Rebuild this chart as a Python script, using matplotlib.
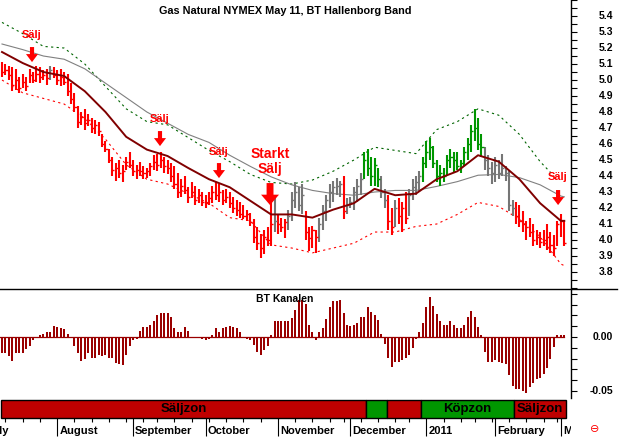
"""Gas Natural NYMEX May 11 with BT Hallenborg band, BT Kanalen histogram
and the buy/sell zone strip underneath."""
import matplotlib

matplotlib.use("Agg")
import matplotlib.pyplot as plt
import numpy as np
import pandas as pd
from matplotlib.lines import Line2D
from matplotlib.patches import FancyArrow
from matplotlib.transforms import Bbox, TransformedBbox

plt.rcParams["font.family"] = ["Liberation Sans", "DejaVu Sans"]

W, H = 619, 437  # output size in pixels

# trading calendar (US holidays removed)
HOLIDAYS = ["2010-07-05", "2010-09-06", "2010-11-25", "2010-12-24",
            "2011-01-17", "2011-02-21"]
FIRST_DAY, LAST_DAY = "2010-07-09", "2011-03-02"
MONTH_LABELS = ["July", "August", "September", "October", "November",
                "December", "2011", "February", "M"]

# daily bars
HIGH = [5.11, 5.10, 5.09, 5.08, 5.07, 5.02, 5.04, 5.02, 5.07, 5.05,
        5.09, 5.08, 5.06, 5.07, 5.09, 5.08, 5.06, 5.07, 5.05, 5.04,
        4.98, 4.92, 4.84, 4.80, 4.82, 4.79, 4.76, 4.75, 4.74, 4.66,
        4.62, 4.57, 4.52, 4.48, 4.50, 4.47, 4.52, 4.55, 4.50, 4.47,
        4.49, 4.46, 4.45, 4.48, 4.53, 4.54, 4.55, 4.52, 4.50, 4.48,
        4.46, 4.42, 4.38, 4.40, 4.33, 4.36, 4.34, 4.32, 4.30, 4.28,
        4.30, 4.34, 4.36, 4.35, 4.31, 4.32, 4.30, 4.27, 4.25, 4.24,
        4.22, 4.19, 4.17, 4.13, 4.08, 4.04, 4.06, 4.08, 4.32, 4.28,
        4.16, 4.14, 4.13, 4.19, 4.30, 4.36, 4.33, 4.35, 4.18, 4.08,
        4.09, 4.06, 4.14, 4.22, 4.28, 4.35, 4.37, 4.39, 4.37, 4.40,
        4.26, 4.27, 4.33, 4.38, 4.42, 4.55, 4.57, 4.52, 4.51, 4.45,
        4.40, 4.32, 4.28, 4.20, 4.25, 4.26, 4.24, 4.30, 4.32, 4.38,
        4.40, 4.43, 4.52, 4.62, 4.64, 4.59, 4.50, 4.47, 4.45, 4.53,
        4.57, 4.55, 4.55, 4.50, 4.58, 4.64, 4.72, 4.82, 4.76, 4.66,
        4.58, 4.53, 4.49, 4.52, 4.50, 4.54, 4.46, 4.43, 4.25, 4.24,
        4.22, 4.18, 4.12, 4.14, 4.10, 4.06, 4.05, 4.06, 4.10, 4.05,
        4.03, 4.12, 4.16, 4.12]
LOW = [5.02, 5.03, 5.00, 4.93, 4.94, 4.92, 4.95, 4.93, 4.98, 4.98,
       4.99, 4.98, 5.00, 4.97, 5.00, 5.01, 4.97, 4.96, 4.97, 4.90,
       4.85, 4.80, 4.70, 4.72, 4.69, 4.71, 4.67, 4.66, 4.65, 4.58,
       4.55, 4.48, 4.40, 4.37, 4.39, 4.36, 4.44, 4.45, 4.40, 4.38,
       4.40, 4.38, 4.39, 4.40, 4.44, 4.43, 4.45, 4.42, 4.41, 4.36,
       4.32, 4.26, 4.27, 4.29, 4.23, 4.26, 4.22, 4.23, 4.21, 4.20,
       4.22, 4.23, 4.25, 4.24, 4.22, 4.23, 4.20, 4.17, 4.15, 4.14,
       4.13, 4.12, 4.09, 3.98, 3.94, 3.89, 3.91, 3.96, 3.96, 4.05,
       4.04, 4.05, 4.01, 4.06, 4.12, 4.20, 4.18, 4.16, 4.00, 3.93,
       3.95, 3.92, 3.99, 4.06, 4.12, 4.20, 4.24, 4.28, 4.27, 4.13,
       4.16, 4.20, 4.19, 4.24, 4.28, 4.38, 4.40, 4.34, 4.34, 4.33,
       4.26, 4.20, 4.06, 4.03, 4.08, 4.10, 4.05, 4.10, 4.15, 4.25,
       4.28, 4.30, 4.36, 4.45, 4.50, 4.45, 4.36, 4.34, 4.36, 4.40,
       4.45, 4.42, 4.44, 4.42, 4.46, 4.50, 4.55, 4.62, 4.56, 4.52,
       4.44, 4.40, 4.35, 4.36, 4.38, 4.40, 4.37, 4.18, 4.15, 4.10,
       4.08, 4.05, 4.00, 4.02, 3.96, 3.97, 3.95, 3.96, 3.94, 3.92,
       3.90, 3.96, 4.02, 3.96]
CLOSE = [5.05, 5.06, 5.03, 4.97, 5.00, 4.95, 4.99, 4.96, 5.03, 5.00,
         5.04, 5.02, 5.03, 5.01, 5.06, 5.03, 5.00, 5.02, 4.99, 4.93,
         4.88, 4.83, 4.74, 4.77, 4.73, 4.75, 4.70, 4.72, 4.68, 4.60,
         4.57, 4.50, 4.44, 4.45, 4.42, 4.43, 4.49, 4.47, 4.43, 4.44,
         4.43, 4.42, 4.43, 4.46, 4.49, 4.47, 4.50, 4.46, 4.45, 4.40,
         4.35, 4.30, 4.34, 4.31, 4.27, 4.30, 4.25, 4.28, 4.24, 4.23,
         4.26, 4.30, 4.28, 4.30, 4.25, 4.27, 4.23, 4.20, 4.19, 4.16,
         4.15, 4.16, 4.11, 4.02, 3.98, 3.95, 4.02, 4.00, 4.10, 4.12,
         4.10, 4.08, 4.11, 4.15, 4.25, 4.30, 4.22, 4.28, 4.05, 4.01,
         4.06, 4.02, 4.10, 4.18, 4.25, 4.30, 4.33, 4.34, 4.35, 4.18,
         4.22, 4.24, 4.30, 4.34, 4.38, 4.50, 4.45, 4.40, 4.47, 4.38,
         4.30, 4.25, 4.12, 4.08, 4.20, 4.15, 4.20, 4.14, 4.28, 4.33,
         4.36, 4.40, 4.48, 4.55, 4.58, 4.48, 4.40, 4.42, 4.40, 4.50,
         4.52, 4.50, 4.46, 4.48, 4.55, 4.60, 4.68, 4.70, 4.60, 4.58,
         4.50, 4.45, 4.42, 4.47, 4.42, 4.45, 4.42, 4.22, 4.20, 4.15,
         4.12, 4.10, 4.08, 4.05, 4.00, 4.02, 3.99, 4.00, 4.02, 3.97,
         3.95, 4.10, 4.12, 3.98]
# bar colour state as runs: R = sell (red), K = neutral (grey), G = buy (green)
BAR_STATE_RUNS = [("R", 14), ("K", 1), ("R", 64), ("K", 1), ("R", 3), ("K", 5),
                  ("R", 4), ("K", 7), ("R", 1), ("K", 5), ("G", 5), ("K", 2),
                  ("R", 2), ("K", 1), ("R", 3), ("K", 4), ("G", 18), ("K", 9),
                  ("R", 15)]

# band lines, read at every 6th bar
KNOTS = [0, 6, 12, 18, 24, 30, 36, 42, 48, 54, 60, 66, 72, 78, 84, 90, 96,
         102, 108, 114, 120, 126, 132, 138, 144, 150, 156, 162, 163]
MA_FAST = [5.175, 5.106, 5.05, 5.025, 4.93, 4.80, 4.645, 4.565, 4.525, 4.45,
           4.38, 4.33, 4.245, 4.16, 4.16, 4.14, 4.19, 4.23, 4.32, 4.28, 4.29,
           4.38, 4.43, 4.53, 4.49, 4.38, 4.23, 4.12, 4.12]
MA_SLOW = [5.225, 5.19, 5.15, 5.13, 5.07, 4.98, 4.89, 4.80, 4.73, 4.66, 4.61,
           4.53, 4.46, 4.395, 4.345, 4.31, 4.29, 4.28, 4.30, 4.31, 4.31,
           4.335, 4.365, 4.405, 4.41, 4.39, 4.345, 4.275, 4.27]
BAND_LO = [5.0, 4.92, 4.885, 4.85, 4.76, 4.63, 4.47, 4.38, 4.35, 4.29, 4.23,
           4.14, 4.12, 3.97, 3.95, 3.92, 3.95, 3.98, 4.05, 4.05, 4.085, 4.10,
           4.16, 4.235, 4.21, 4.13, 4.02, 3.85, 3.84]
HI_KNOTS = [0, 6, 12, 18, 24, 30, 36, 42, 48, 54, 60, 66, 72, 78, 84, 90, 96,
            102, 108, 114, 120, 126, 132, 138, 144, 150, 156, 160]
BAND_HI = [5.36, 5.29, 5.21, 5.20, 5.10, 4.96, 4.82, 4.74, 4.72, 4.64, 4.56,
           4.49, 4.41, 4.36, 4.35, 4.375, 4.43, 4.50, 4.58, 4.56, 4.54, 4.69,
           4.74, 4.82, 4.78, 4.66, 4.49, 4.40]

# BT Kanalen histogram
KANAL = [-0.015, -0.015, -0.018, -0.022, -0.015, -0.015, -0.015, -0.011, -0.008, -0.003,
         0.000, 0.002, 0.003, 0.005, 0.005, 0.010, 0.009, 0.008, 0.007, 0.003,
         -0.001, -0.008, -0.015, -0.022, -0.020, -0.015, -0.019, -0.019, -0.017, -0.018,
         -0.017, -0.019, -0.019, -0.024, -0.025, -0.026, -0.017, -0.008, -0.003, -0.002,
         0.006, 0.009, 0.009, 0.011, 0.015, 0.020, 0.022, 0.022, 0.022, 0.019,
         0.008, 0.005, 0.005, 0.009, 0.006, -0.001, 0.000, -0.001, -0.002, -0.003,
         -0.002, 0.002, 0.008, 0.005, 0.008, 0.009, 0.010, 0.009, 0.008, 0.005,
         -0.001, -0.002, -0.003, -0.007, -0.014, -0.017, -0.012, -0.008, 0.002, 0.015,
         0.015, 0.015, 0.015, 0.015, 0.018, 0.025, 0.034, 0.034, 0.031, 0.011,
         0.005, -0.003, 0.005, 0.008, 0.017, 0.028, 0.033, 0.033, 0.034, 0.022,
         0.011, 0.010, 0.011, 0.013, 0.019, 0.019, 0.028, 0.023, 0.020, 0.016,
         0.003, -0.006, -0.019, -0.028, -0.023, -0.023, -0.021, -0.019, -0.017, -0.010,
         -0.002, 0.005, 0.013, 0.028, 0.037, 0.029, 0.021, 0.015, 0.011, 0.011,
         0.015, 0.011, 0.008, 0.008, 0.011, 0.019, 0.024, 0.019, 0.009, 0.002,
         -0.014, -0.023, -0.023, -0.021, -0.023, -0.024, -0.025, -0.035, -0.045, -0.048,
         -0.048, -0.050, -0.052, -0.046, -0.043, -0.039, -0.038, -0.034, -0.029, -0.020,
         -0.009, 0.002, 0.002, 0.002]

# zone strip: segment edges (bar index), state and label
ZONE_EDGES = [-0.3, 105.5, 111.5, 121.5, 148.5, 163.5]
ZONE_STATE = ["R", "G", "R", "G", "R"]
ZONE_TEXT = ["Säljzon", "", "", "Köpzon", "Säljzon"]

PRICE_TICKS = [3.8, 3.9, 4.0, 4.1, 4.2, 4.3, 4.4, 4.5, 4.6, 4.7, 4.8, 4.9,
               5.0, 5.1, 5.2, 5.3, 5.4]
KANAL_TICKS = [0.0, -0.05]

BAR_COLORS = {"R": "#ff0000", "K": "#767676", "G": "#009600"}
ZONE_COLORS = {"R": "#bf0000", "G": "#009600"}
MA_COLOR = "#800000"
HIST_COLOR = "#9a0000"
BOLD = dict(fontweight="bold")


def px_axes(fig, x0, y0, x1, y1):
    return fig.add_axes([x0 / W, 1 - y1 / H, (x1 - x0) / W, (y1 - y0) / H])


def main():
    dates = pd.bdate_range(FIRST_DAY, LAST_DAY, freq="C", holidays=HOLIDAYS)
    n = len(dates)
    assert n == len(HIGH) == len(LOW) == len(CLOSE) == len(KANAL)
    x = np.arange(n)
    state = "".join(s * k for s, k in BAR_STATE_RUNS)
    cols = [BAR_COLORS[s] for s in state]

    # month starts / week starts on the trading-day axis
    full = pd.bdate_range("2010-07-01", "2011-03-31", freq="C", holidays=HOLIDAYS)
    offset = full.get_loc(dates[0])
    month_first = [i - offset for i in range(len(full))
                   if i == 0 or full[i].month != full[i - 1].month]
    week_first = [i for i in range(1, n) if dates[i].weekday() < dates[i - 1].weekday()]

    fig = plt.figure(figsize=(W / 100, H / 100), dpi=100)
    xlim = (-0.58, 164.8)

    # ---- price panel
    ax = px_axes(fig, 0, 0, 570.5, 289)
    ax.set_xlim(*xlim)
    ax.set_ylim(3.694, 5.5)
    for s in ("top", "left", "bottom"):
        ax.spines[s].set_visible(False)
    ax.spines["right"].set_linewidth(1.0)
    ax.set_xticks([])
    ax.yaxis.tick_right()
    ax.set_yticks(PRICE_TICKS)
    ax.set_yticks(np.arange(3.70, 5.51, 0.05), minor=True)
    ax.tick_params(axis="y", which="both", direction="out", length=4.3,
                   width=0.8, labelright=False)
    for v in PRICE_TICKS:
        ax.text(1.0745, v, f"{v:.1f}", transform=ax.get_yaxis_transform(),
                ha="right", va="center", fontsize=7.5, **BOLD)

    ax.plot(HI_KNOTS, BAND_HI, color="#006400", lw=0.8, ls=(0, (2, 3)), zorder=2)
    ax.plot(KNOTS, BAND_LO, color="#ff0000", lw=0.8, ls=(0, (2, 3)), zorder=2)
    ax.plot(KNOTS, MA_SLOW, color="#808080", lw=0.8, zorder=2)
    ax.vlines(x, LOW, HIGH, colors=cols, lw=1.5, zorder=3)
    ax.hlines(CLOSE, x, x + 0.6, colors=cols, lw=1.0, zorder=3)
    ax.plot(KNOTS, MA_FAST, color=MA_COLOR, lw=1.4, zorder=4)

    # sell signals: (bar, arrow top, text y, text)
    for xi, top, ty, label, big in [(8.7, 5.206, 5.28, "Sälj", False),
                                    (45.8, 4.681, 4.756, "Sälj", False),
                                    (62.9, 4.481, 4.55, "Sälj", False),
                                    (77.7, 4.356, 4.49, "Starkt\nSälj", True),
                                    (161.2, 4.3125, 4.394, "Sälj", False)]:
        if big:
            arr = FancyArrow(xi, top, 0, -0.1375, width=2.0, head_width=5.2,
                             head_length=0.065, length_includes_head=True,
                             color="#ff0000", lw=0, zorder=5)
            ax.text(xi, ty, label, ha="center", va="center", fontsize=10,
                    color="#ff0000", linespacing=1.1, zorder=5, **BOLD)
        else:
            arr = FancyArrow(xi, top, 0, -0.094, width=1.2, head_width=3.5,
                             head_length=0.05, length_includes_head=True,
                             color="#ff0000", lw=0, zorder=5)
            ax.text(xi, ty, label, ha="center", va="center", fontsize=8,
                    color="#ff0000", zorder=5, **BOLD)
        ax.add_patch(arr)

    # ---- BT Kanalen panel
    axh = px_axes(fig, 0, 289, 570.5, 398)
    axh.set_xlim(*xlim)
    axh.set_ylim(-0.0565, 0.0445)
    for s in ("top", "left", "bottom"):
        axh.spines[s].set_visible(False)
    axh.spines["right"].set_linewidth(1.0)
    axh.set_xticks([])
    axh.yaxis.tick_right()
    axh.set_yticks(KANAL_TICKS)
    axh.set_yticks(np.arange(-0.05, 0.045, 0.01), minor=True)
    axh.tick_params(axis="y", which="both", direction="out", length=4.3,
                    width=0.8, labelright=False)
    for v in KANAL_TICKS:
        axh.text(1.0745, v, f"{v:.2f}", transform=axh.get_yaxis_transform(),
                 ha="right", va="center", fontsize=7.5, **BOLD)
    axh.bar(x, KANAL, width=0.58, color=HIST_COLOR, lw=0)
    axh.plot([x[0] - 0.6, x[-1]], [0, 0], color=HIST_COLOR, lw=0.9)

    # ---- zone strip
    axz = px_axes(fig, 0, 400, 570.5, 418)
    axz.set_xlim(*xlim)
    axz.set_ylim(0, 1)
    for s in axz.spines.values():
        s.set_visible(False)
    axz.set_yticks([])
    for x0, x1, st, txt in zip(ZONE_EDGES[:-1], ZONE_EDGES[1:], ZONE_STATE, ZONE_TEXT):
        axz.axvspan(x0, x1, fc=ZONE_COLORS[st], ec="black", lw=1.0, clip_on=False)
        if txt:
            axz.text((x0 + x1) / 2, 0.5, txt, ha="center", va="center",
                     fontsize=9.5, **BOLD)
    ticks = [m for m in month_first if 0 <= m < n]
    axz.set_xticks(ticks)
    axz.set_xticks(week_first, minor=True)
    axz.tick_params(axis="x", which="major", direction="out", length=13,
                    width=0.8, labelbottom=False)
    axz.tick_params(axis="x", which="minor", direction="out", length=3, width=0.8)
    clip = TransformedBbox(Bbox([[0, 0], [570.5 / W, 1]]), fig.transFigure)
    for m, lab in zip(month_first, MONTH_LABELS):
        t = axz.text(m + 0.6, -0.72, lab, transform=axz.get_xaxis_transform(),
                     ha="left", va="center", fontsize=8, **BOLD)
        t.set_clip_box(clip)
        t.set_clip_on(True)

    # separator between the two panels, full width
    ysep = 1 - 289 / H
    fig.add_artist(Line2D([0, 617 / W], [ysep, ysep], color="black", lw=1.0))

    fig.text(285 / W, 1 - 11 / H, "Gas Natural NYMEX May 11, BT Hallenborg Band",
             ha="center", va="center", fontsize=7.8, **BOLD)
    fig.text(285 / W, 1 - 299 / H, "BT Kanalen", ha="center", va="center",
             fontsize=7.5, **BOLD)
    fig.text(595 / W, 1 - 429 / H, "\u2296", ha="center", va="center",
             fontsize=8, color="#ff0000", family=["DejaVu Sans"])

    fig.savefig("out.png", dpi=100)
    plt.close(fig)


if __name__ == "__main__":
    main()
